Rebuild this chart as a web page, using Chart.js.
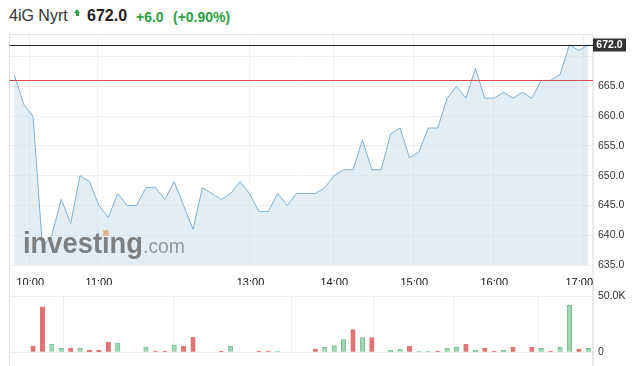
<!DOCTYPE html>
<html>
<head>
<meta charset="utf-8">
<script src="https://cdn.jsdelivr.net/npm/chart.js@4/dist/chart.umd.min.js"></script>
<style>
  body { margin: 0; background: #fff; font-family: "Liberation Sans", Arial, sans-serif; }
  #wrap { position: relative; width: 638px; height: 366px; overflow: hidden; }
  #wrap span { position: absolute; white-space: nowrap; }
  .name { left: 9px; top: 8px; font-size: 16px; line-height: 16px; color: #333; }
  .last { left: 87px; top: 8px; font-size: 16px; line-height: 16px; font-weight: bold; color: #222; }
  .chg { top: 10px; font-size: 14px; line-height: 14px; font-weight: bold; color: #2e9d44; }
  .arrow { position: absolute; left: 74px; top: 9px; width: 7px; height: 7px; }
  .arrow:before { content: ""; position: absolute; left: 0; top: 0; border-left: 3.5px solid transparent; border-right: 3.5px solid transparent; border-bottom: 4px solid #2e9d44; }
  .arrow:after { content: ""; position: absolute; left: 2px; top: 4px; width: 3px; height: 2.5px; background: #2e9d44; }
  canvas { position: absolute; left: 0; }
  #priceChart { top: 0; }
  #volChart { top: 285px; }
</style>
</head>
<body>
<div id="wrap">
  <span class="name">4iG Nyrt</span>
  <div class="arrow"></div>
  <span class="last">672.0</span>
  <span class="chg" style="left:136px">+6.0</span>
  <span class="chg" style="left:173px">(+0.90%)</span>
  <canvas id="priceChart" width="638" height="285"></canvas>
  <canvas id="volChart" width="638" height="81"></canvas>
</div>
<script>
// tick labels on the time axis and where they sit (bar index)
const timeLabels = ["10:00", "11:00", "13:00", "14:00", "15:00", "16:00", "17:00"];
const timeTickPos = [1.6, 8.9, 25.0, 33.9, 42.4, 50.9, 60.5];

// price per bar
const prices = [
  667, 662, 660, 638, 640, 646, 642, 650, 649, 645,
  643, 647, 645, 645, 648, 648, 646, 649, 645, 641,
  648, 647, 646, 647, 649, 647, 644, 644, 647, 645,
  647, 647, 647, 648, 650, 651, 651, 656, 651, 651,
  657, 658, 653, 654, 658, 658, 663, 665, 663, 668,
  663, 663, 664, 663, 664, 663, 666, 666, 667, 672,
  671, 672
];

// volume per bar
const volumes = [
  0, 0, 5600, 40600, 7300, 3500, 3800, 3500, 2000, 2000,
  9000, 8200, 0, 0, 4700, 1200, 1200, 6400, 5600, 13400,
  0, 0, 1200, 5600, 0, 0, 1200, 1200, 1200, 0,
  0, 0, 2900, 4400, 6100, 11400, 20200, 13200, 13200, 0,
  1800, 2600, 5300, 1200, 1200, 1200, 3500, 4400, 7300, 1800,
  3500, 1200, 1800, 4400, 0, 4400, 3500, 1200, 4400, 42000,
  2600, 3500
];

const priceTicks = [635, 640, 645, 650, 655, 660, 665, 670];
const volumeTicks = [0, 50000];
const lastPrice = 672.0;
const prevClose = 666.0;

const FONT = '"Liberation Sans", Arial, sans-serif';

// bar goes green when the price rose against the bar before
const isUp = prices.map((p, i) => i > 0 && p > prices[i - 1]);

function setTimeTicks(scale) {
  scale.ticks = timeTickPos.map(v => ({ value: v }));
}

// investing.com watermark, squeezed to the width of the original logo
function drawWatermark(ctx) {
  ctx.save();
  ctx.globalAlpha = 0.88;
  ctx.textBaseline = "alphabetic";
  ctx.textAlign = "left";
  ctx.font = "bold 29px " + FONT;
  const sx = 120 / ctx.measureText("investing").width;
  const dotX = ctx.measureText("invest").width + ctx.measureText("i").width / 2;
  ctx.translate(23, 253);
  ctx.scale(sx, 1);
  ctx.fillStyle = "#707070";
  ctx.fillText("investing", 0, 0);
  ctx.fillStyle = "#e2b88a";
  ctx.fillRect(dotX - 3, -23, 6, 6);
  ctx.setTransform(1, 0, 0, 1, 0, 0);
  ctx.font = "20px " + FONT;
  const sc = 42 / ctx.measureText(".com").width;
  ctx.translate(143, 253);
  ctx.scale(sc, 1);
  ctx.fillStyle = "#8a8a8a";
  ctx.fillText(".com", 0, 0);
  ctx.restore();
}

// borders, reference lines, last price box, time labels, watermark
const priceOverlay = {
  id: "priceOverlay",
  afterDatasetsDraw(chart) {
    const ctx = chart.ctx;
    const a = chart.chartArea;
    const x = chart.scales.x;
    const y = chart.scales.y;

    drawWatermark(ctx);

    ctx.save();
    // frame
    ctx.strokeStyle = "#e3e3e3";
    ctx.lineWidth = 1;
    ctx.beginPath();
    ctx.moveTo(a.left, chart.height);
    ctx.lineTo(a.left, a.top);
    ctx.lineTo(a.right, a.top);
    ctx.stroke();
    ctx.strokeStyle = "#d3d9e0";
    ctx.beginPath();
    ctx.moveTo(a.right, a.top);
    ctx.lineTo(a.right, chart.height);
    ctx.stroke();

    // previous close and last price lines
    const yPrev = Math.round(y.getPixelForValue(prevClose)) + 0.5;
    ctx.strokeStyle = "#d64b4b";
    ctx.beginPath();
    ctx.moveTo(a.left, yPrev);
    ctx.lineTo(a.right, yPrev);
    ctx.stroke();
    const yLast = Math.round(y.getPixelForValue(lastPrice)) + 0.5;
    ctx.strokeStyle = "#222";
    ctx.beginPath();
    ctx.moveTo(a.left, yLast);
    ctx.lineTo(a.right, yLast);
    ctx.stroke();

    // last price box
    ctx.fillStyle = "#333";
    ctx.fillRect(a.right, yLast - 7, 33, 13);
    ctx.fillStyle = "#fff";
    ctx.font = "bold 10.5px " + FONT;
    ctx.textBaseline = "middle";
    ctx.textAlign = "center";
    ctx.fillText(lastPrice.toFixed(1), a.right + 16.5, yLast);

    // time labels, kept inside the frame
    ctx.fillStyle = "#111";
    ctx.font = "11px " + FONT;
    timeTickPos.forEach((v, i) => {
      const half = ctx.measureText(timeLabels[i]).width / 2;
      let px = x.getPixelForValue(v) + 1;
      if (px + half > a.right) px = a.right - half;
      ctx.fillText(timeLabels[i], px, 283);
    });
    ctx.restore();
  }
};

const volOverlay = {
  id: "volOverlay",
  afterDraw(chart) {
    const ctx = chart.ctx;
    const a = chart.chartArea;
    ctx.save();
    ctx.lineWidth = 1;
    ctx.strokeStyle = "#e3e3e3";
    ctx.beginPath();
    ctx.moveTo(a.left, 0);
    ctx.lineTo(a.left, chart.height);
    ctx.stroke();
    ctx.strokeStyle = "#c9d2dc";
    ctx.beginPath();
    ctx.moveTo(a.right, 0);
    ctx.lineTo(a.right, chart.height);
    ctx.stroke();
    ctx.restore();
  }
};

new Chart(document.getElementById("priceChart"), {
  type: "line",
  data: {
    datasets: [{
      data: prices.map((p, i) => ({ x: i, y: p })),
      borderColor: "#7eb0d8",
      borderWidth: 1,
      backgroundColor: "rgba(205,222,235,0.55)",
      fill: "start",
      pointRadius: 0,
      tension: 0
    }]
  },
  options: {
    responsive: false,
    animation: false,
    layout: { padding: { left: 9.5, top: 34.5, right: 0, bottom: 0 } },
    plugins: { legend: { display: false }, tooltip: { enabled: false } },
    scales: {
      x: {
        type: "linear",
        min: -0.5,
        max: 61.5,
        afterBuildTicks: setTimeTicks,
        afterFit: s => { s.height = 20; },
        grid: { color: "#f0f0f0", drawTicks: false },
        border: { display: false },
        ticks: { display: false }
      },
      y: {
        position: "right",
        min: 635,
        max: 673.7,
        afterBuildTicks: s => { s.ticks = priceTicks.map(v => ({ value: v })); },
        afterFit: s => { s.width = 45; },
        grid: { color: "#efefef", drawTicks: false },
        border: { display: false },
        ticks: {
          padding: 5,
          color: "#333",
          font: { size: 10.5, family: FONT },
          callback: v => (v === 670 ? "" : v.toFixed(1))
        }
      }
    }
  },
  plugins: [priceOverlay]
});

new Chart(document.getElementById("volChart"), {
  type: "bar",
  data: {
    datasets: [{
      data: volumes.map((v, i) => ({ x: i, y: v || null })),
      backgroundColor: isUp.map(u => (u ? "#a3d6b5" : "#e07474")),
      borderColor: isUp.map(u => (u ? "#77c093" : "#e07474")),
      borderWidth: 1,
      barThickness: 4.5
    }]
  },
  options: {
    responsive: false,
    animation: false,
    layout: { padding: { left: 9.5, top: 10, right: 0, bottom: 0 } },
    plugins: { legend: { display: false }, tooltip: { enabled: false } },
    scales: {
      x: {
        type: "linear",
        min: -0.5,
        max: 61.5,
        offset: false,
        afterBuildTicks: setTimeTicks,
        afterFit: s => { s.height = 13.7; },
        grid: { color: "#f0f0f0", drawTicks: false },
        border: { display: false },
        ticks: { display: false }
      },
      y: {
        position: "right",
        min: 0,
        max: 50000,
        afterBuildTicks: s => { s.ticks = volumeTicks.map(v => ({ value: v })); },
        afterFit: s => { s.width = 45; },
        grid: { color: "#eeeeee", drawTicks: false },
        border: { display: false },
        ticks: {
          padding: 5,
          color: "#333",
          font: { size: 10.5, family: FONT },
          callback: v => (v === 0 ? "0" : (v / 1000).toFixed(1) + "K")
        }
      }
    }
  },
  plugins: [volOverlay]
});
</script>
</body>
</html>
